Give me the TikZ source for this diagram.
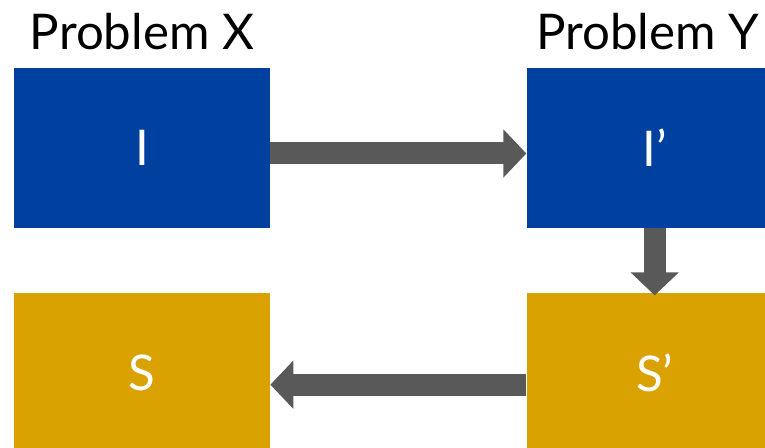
\documentclass[tikz,border=0pt]{standalone}
\usepackage{fontspec}
\setmainfont{Lato}
\usetikzlibrary{
    positioning,
    arrows.meta
}

\definecolor{instblue}{RGB}{0,65,160}
\definecolor{solgold}{RGB}{218,162,0}
\definecolor{arrowgray}{RGB}{89,89,89}

\begin{document}
\begin{tikzpicture}[
      % Set distances between nodes
      node distance=1.28cm and 5.12cm,
      % Define styles for the elements
      base/.style={
          rectangle,
          text=white,
          text centered,
          minimum width=5.12cm,
          minimum height=3.2cm,
          font=\fontsize{28}{34}\selectfont
        },
      instance/.style={
          base,
          fill=instblue
        },
      solution/.style={
          base,
          fill=solgold
        },
      title/.style={
          inner sep=0pt,
          font=\fontsize{28}{34}\selectfont
        },
      arrow/.style={
          -{Triangle[length=0.46cm, width=0.94cm]}, % Arrow tip style
          line width=0.44cm,
          draw=arrowgray,
          fill=arrowgray
        }
    ]
    \useasboundingbox (0,0) rectangle (15.3,-8.96);

    % Place the nodes
    \node[instance] (instX) at (2.84,-2.96) {I};
    \node[instance, right=of instX] (instY) {I'};
    \node[solution, below=of instX] (solX) {S};
    \node[solution, below=of instY] (solY) {S'};

    \node[title, above=0.34cm of instX] (probX) {Problem X};
    \node[title, above=0.34cm of instY, xshift=-0.14cm] (probY) {Problem Y};

    % Draw the arrows connecting the nodes
    \draw[arrow] ([yshift=-0.11cm]instX.east) -- ([yshift=-0.11cm]instY.west);
    \draw[arrow] (instY.south) -- ([yshift=-0.06cm]solY.north);
    \draw[arrow] ([yshift=-0.24cm]solY.west) -- ([yshift=-0.24cm]solX.east);

  \end{tikzpicture}
\end{document}
